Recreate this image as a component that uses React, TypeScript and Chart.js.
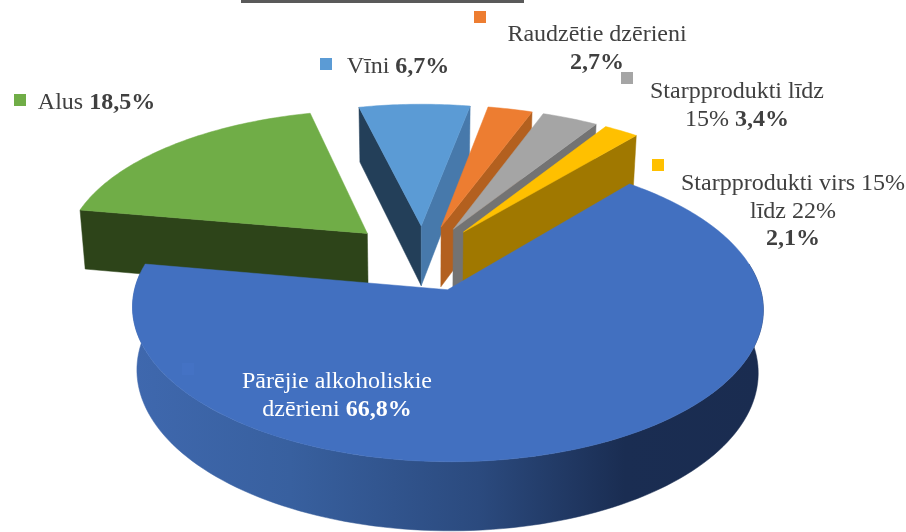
import React, { useEffect, useRef } from "react";
import { Chart, registerables } from "chart.js";

Chart.register(...registerables);

const categories = [
  "Pārējie alkoholiskie dzērieni",
  "Alus",
  "Vīni",
  "Raudzētie dzērieni",
  "Starpprodukti līdz 15%",
  "Starpprodukti virs 15% līdz 22%",
];
const shares = [66.8, 18.5, 6.7, 2.7, 3.4, 2.1];
const explode = [70, 78, 70, 70, 70, 70];
const topColors = ["#4270C0", "#70AD47", "#5B9BD5", "#ED7D31", "#A5A5A5", "#FFC000"];
const startWallColors = ["#2C4B80", "#2D4419", "#233F59", "#B3601F", "#737373", "#A07800"];
const endWallColors = ["#2C4B80", "#2D4419", "#4779AB", "#B3601F", "#737373", "#A07800"];
const legendColors = ["#4472C4", "#70AD47", "#5B9BD5", "#ED7D31", "#A5A5A5", "#FFC000"];

// label text: line fragments before the value; the value is appended bold on the final line
const labelLines = [
  ["Pārējie alkoholiskie", "dzērieni "],
  ["Alus "],
  ["Vīni "],
  ["Raudzētie dzērieni", ""],
  ["Starpprodukti līdz", "15% "],
  ["Starpprodukti virs 15%", "līdz 22%", ""],
];
const labelCentres = [337, 96.5, 398, 597, 737, 793];
const labelBaselines = [388, 108.5, 73, 41, 98, 190];
const labelSpacing = 27.7;
const labelColors = ["#FFFFFF", "#404040", "#404040", "#404040", "#404040", "#404040"];
const swatchX = [182, 14, 320, 474, 621, 652];
const swatchY = [363, 94, 58, 11, 72, 159];

const FONT = '"Liberation Serif", "Times New Roman", serif';
const fontSize = 24;

// projection of the flat pie onto the tilted 3D view
const view = { cx: 423, cy: 258, tilt: 0.47, persp: 0.00039, depth: 61, shrink: 0.985 };

function project(x: number, d: number, bottom: boolean) {
  const w = 1 / (1 + view.persp * d);
  const sx = view.cx + x * w * (bottom ? view.shrink : 1);
  const sy = view.cy - view.tilt * d * w + (bottom ? view.depth * Math.pow(w, 0.8) : 0);
  return [sx, sy];
}

function poly(ctx: CanvasRenderingContext2D, pts: number[][], fill: any) {
  ctx.beginPath();
  pts.forEach((p, i) => (i ? ctx.lineTo(p[0], p[1]) : ctx.moveTo(p[0], p[1])));
  ctx.closePath();
  ctx.fillStyle = fill;
  ctx.strokeStyle = fill;
  ctx.lineWidth = 0.5;
  ctx.fill();
  ctx.stroke();
}

const pie3d = {
  id: "pie3d",
  beforeDatasetsDraw(chart: any) {
    const ctx: CanvasRenderingContext2D = chart.ctx;
    const arcs = chart.getDatasetMeta(0).data;
    // slices at the back first, the large front slice last
    const order = [1, 2, 3, 4, 5, 0];
    ctx.save();
    ctx.lineJoin = "round";
    for (const i of order) {
      const arc = arcs[i];
      const props = arc.getProps(["startAngle", "endAngle", "outerRadius"], true);
      const a0 = props.startAngle + Math.PI / 2;
      const a1 = props.endAngle + Math.PI / 2;
      const R = props.outerRadius;
      const off = arc.options.offset;
      const mid = (a0 + a1) / 2;
      const tx = off * Math.sin(mid);
      const td = off * Math.cos(mid);
      const rim = (a: number, b: boolean) =>
        project(tx + R * Math.sin(a), td + R * Math.cos(a), b);
      const tipT = project(tx, td, false);
      const tipB = project(tx, td, true);
      const midP = rim(mid, false);

      const cut = (a: number, color: string) => {
        const p = rim(a, false);
        const ex = p[0] - tipT[0];
        const ey = p[1] - tipT[1];
        let nx = ey;
        let ny = -ex;
        if (nx * (midP[0] - tipT[0]) + ny * (midP[1] - tipT[1]) > 0) {
          nx = -nx;
          ny = -ny;
        }
        if (ny > 0) poly(ctx, [tipT, p, rim(a, true), tipB], color);
      };
      cut(a0, startWallColors[i]);
      cut(a1, endWallColors[i]);

      // outer wall, front half only
      const w0 = Math.max(a0, (80 * Math.PI) / 180);
      const w1 = Math.min(a1, (276 * Math.PI) / 180);
      if (w1 > w0) {
        const up: number[][] = [];
        const down: number[][] = [];
        const steps = 120;
        for (let s = 0; s <= steps; s++) {
          const a = w0 + ((w1 - w0) * s) / steps;
          up.push(rim(a, false));
          down.unshift(rim(a, true));
        }
        const xs = up.concat(down).map((p) => p[0]);
        const g = ctx.createLinearGradient(Math.min(...xs), 0, Math.max(...xs), 0);
        g.addColorStop(0, "#3F68AE");
        g.addColorStop(0.25, "#38609F");
        g.addColorStop(0.55, "#2B4A7E");
        g.addColorStop(0.78, "#1A2D52");
        g.addColorStop(1, "#1A2C50");
        poly(ctx, up.concat(down), g);
      }

      // top face
      const top: number[][] = [tipT];
      const n = Math.max(4, Math.ceil((a1 - a0) * 60));
      for (let s = 0; s <= n; s++) top.push(rim(a0 + ((a1 - a0) * s) / n, false));
      poly(ctx, top, topColors[i]);
    }
    ctx.restore();
    return false;
  },
  afterDraw(chart: any) {
    const ctx: CanvasRenderingContext2D = chart.ctx;
    ctx.save();
    ctx.textBaseline = "alphabetic";
    ctx.textAlign = "left";
    const reg = `${fontSize}px ${FONT}`;
    const bold = `bold ${fontSize}px ${FONT}`;
    categories.forEach((_, i) => {
      ctx.fillStyle = legendColors[i];
      ctx.fillRect(swatchX[i], swatchY[i], 12, 12);
      const value = shares[i].toFixed(1).replace(".", ",") + "%";
      const lines = labelLines[i];
      lines.forEach((line, l) => {
        const isLast = l === lines.length - 1;
        const y = labelBaselines[i] + l * labelSpacing;
        ctx.font = reg;
        const w1 = ctx.measureText(line).width;
        ctx.font = bold;
        const w2 = isLast ? ctx.measureText(value).width : 0;
        const x = labelCentres[i] - (w1 + w2) / 2;
        ctx.fillStyle = labelColors[i];
        ctx.font = reg;
        if (line) ctx.fillText(line, x, y);
        if (isLast) {
          ctx.font = bold;
          ctx.fillText(value, x + w1, y);
        }
      });
    });
    // remains of the cropped heading above the chart
    ctx.fillStyle = "#5A5A5A";
    ctx.fillRect(241, 0, 283, 3);
    ctx.restore();
  },
};

export default function App() {
  const ref = useRef<HTMLCanvasElement>(null);
  useEffect(() => {
    document.body.style.margin = "0";
    const chart = new Chart(ref.current as HTMLCanvasElement, {
      type: "pie",
      data: {
        labels: categories,
        datasets: [{ data: shares, backgroundColor: topColors, offset: explode, borderWidth: 0 }],
      },
      options: {
        responsive: false,
        animation: false,
        rotation: 40,
        radius: 305,
        layout: { padding: 0 },
        events: [],
        plugins: { legend: { display: false }, tooltip: { enabled: false } },
      } as any,
      plugins: [pie3d as any],
    });
    return () => chart.destroy();
  }, []);
  return (
    <div style={{ width: 906, height: 532, overflow: "hidden", background: "#fff" }}>
      <canvas ref={ref} width={906} height={532} style={{ display: "block" }} />
    </div>
  );
}
